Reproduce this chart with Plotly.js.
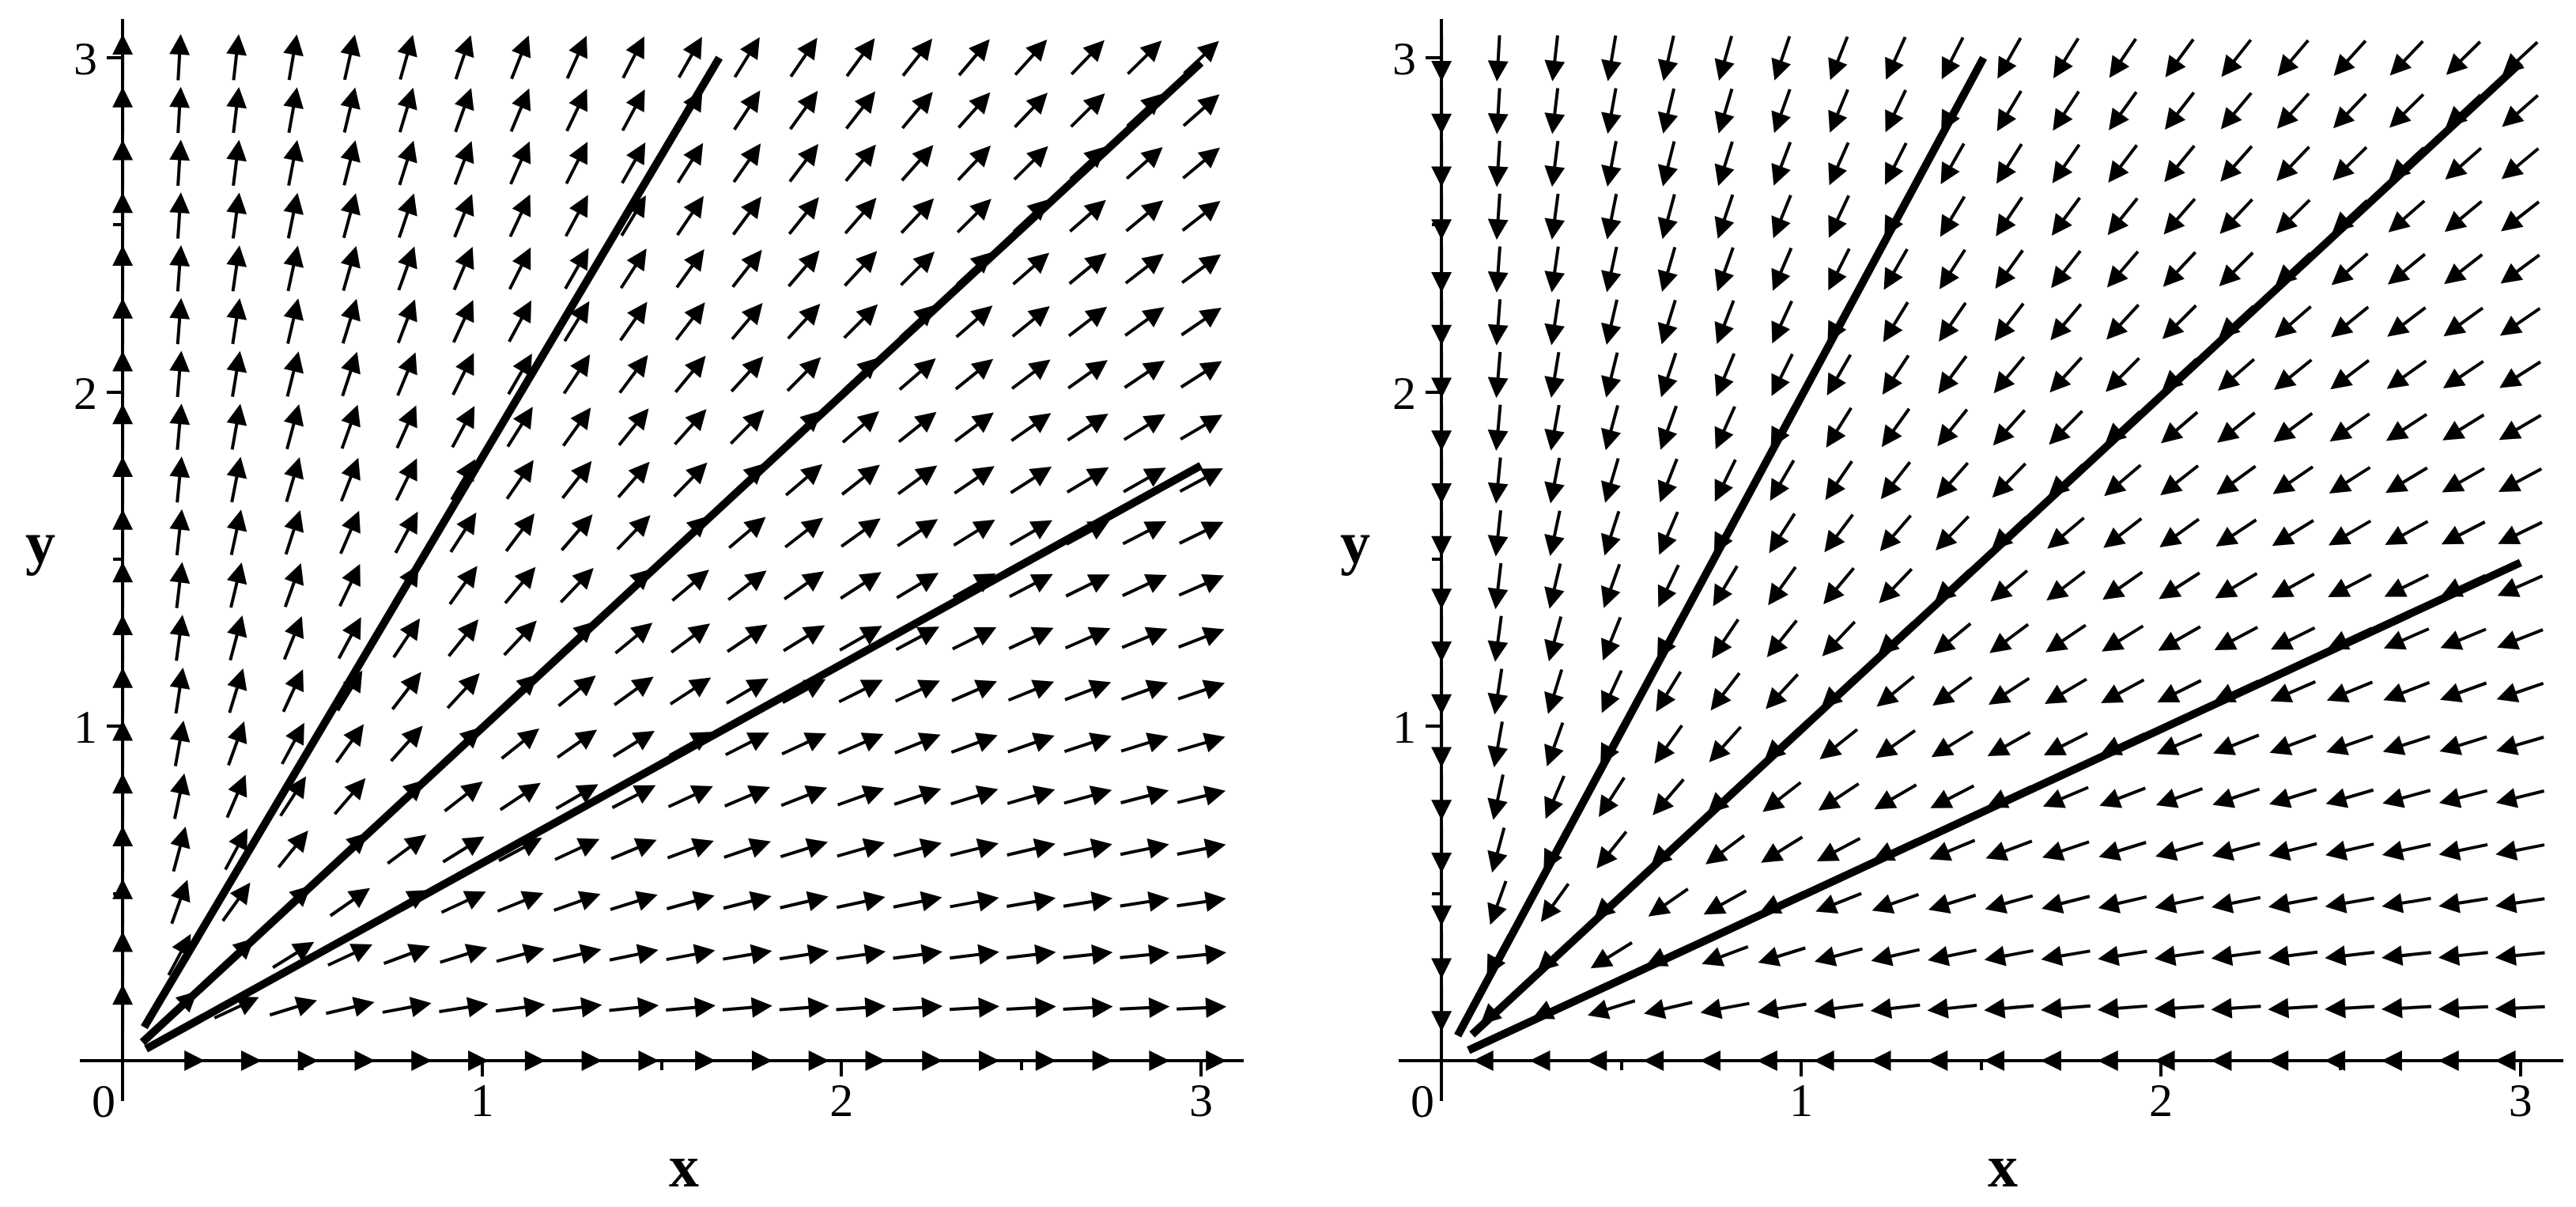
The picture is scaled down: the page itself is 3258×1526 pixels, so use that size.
<!DOCTYPE html>
<html>
<head>
<meta charset="utf-8">
<script src="https://cdn.plot.ly/plotly-3.0.1.min.js"></script>
<style>html,body{margin:0;padding:0;background:#fff;}#chart{width:3258px;height:1526px;}</style>
</head>
<body>
<div id="chart"></div>
<script>
// Grid of field points (20 x 20 on 0..3), same for x and y
const gridVals = [0, 0.1579, 0.3158, 0.4737, 0.6316, 0.7895, 0.9474, 1.1053, 1.2632, 1.4211,
                  1.5789, 1.7368, 1.8947, 2.0526, 2.2105, 2.3684, 2.5263, 2.6842, 2.8421, 3.0];
// Field direction signs: left panel x' = x, y' = y (outward); right panel x' = -x, y' = -y (inward)
const leftFieldSign = 1;
const rightFieldSign = -1;
// Solution curves (straight rays through the origin)
const leftCurvesX = [[0.06, 1.66], [0.055, 3.0], [0.065, 3.0]];
const leftCurvesY = [[0.10, 3.0], [0.055, 2.985], [0.035, 1.78]];
const rightCurvesX = [[0.045, 1.507], [0.085, 3.0], [0.075, 3.0]];
const rightCurvesY = [[0.075, 3.0], [0.078, 2.985], [0.031, 1.49]];
// Tick labels
const majorTicks = [1, 2, 3];
const majorTickText = ['1', '2', '3'];
const minorTicks = [0.5, 1.5, 2.5];
const arrowLen = 0.142;

const traces = [];
function addCurves(xs, ys, xa, ya) {
  for (let i = 0; i < xs.length; i++) {
    traces.push({x: xs[i], y: ys[i], xaxis: xa, yaxis: ya, mode: 'lines', type: 'scatter',
      line: {color: '#000', width: 10}, hoverinfo: 'skip', showlegend: false, cliponaxis: false});
  }
}
addCurves(leftCurvesX, leftCurvesY, 'x', 'y');
addCurves(rightCurvesX, rightCurvesY, 'x2', 'y2');

const annotations = [];
function addField(sign, xr, yr) {
  for (const gx of gridVals) {
    for (const gy of gridVals) {
      const m = Math.hypot(gx, gy);
      if (m === 0) continue;
      const ux = sign * gx / m, uy = sign * gy / m;
      annotations.push({
        xref: xr, yref: yr, axref: xr, ayref: yr,
        x: gx + ux * arrowLen / 2, y: gy + uy * arrowLen / 2,
        ax: gx - ux * arrowLen / 2, ay: gy - uy * arrowLen / 2,
        text: '', showarrow: true, arrowhead: 2, arrowsize: 1.3, arrowwidth: 4,
        arrowcolor: '#000', standoff: 0, startstandoff: 0
      });
    }
  }
}
addField(leftFieldSign, 'x', 'y');
addField(rightFieldSign, 'x2', 'y2');

const tickFont = {family: 'Liberation Serif, Times New Roman, serif', size: 60, color: '#000'};
const titleFont = {family: 'Liberation Serif, Times New Roman, serif', size: 76, color: '#000', weight: 'bold'};

// zero labels and axis titles
[['x','y'],['x2','y2']].forEach(([xr, yr]) => {
  annotations.push({xref: xr, yref: yr, x: 0, y: 0, text: '0', showarrow: false,
    xanchor: 'center', yanchor: 'middle', xshift: -24, yshift: -51, font: tickFont});
});
annotations.push({xref: 'paper', yref: 'paper', x: 865/3258, y: 0.0341, text: '<b>x</b>', showarrow: false, xanchor: 'center', yanchor: 'middle', font: titleFont});
annotations.push({xref: 'paper', yref: 'paper', x: 2533/3258, y: 0.0341, text: '<b>x</b>', showarrow: false, xanchor: 'center', yanchor: 'middle', font: titleFont});
annotations.push({xref: 'paper', yref: 'paper', x: 51/3258, y: 0.5505, text: '<b>y</b>', showarrow: false, xanchor: 'center', yanchor: 'middle', font: titleFont});
annotations.push({xref: 'paper', yref: 'paper', x: 1714/3258, y: 0.5505, text: '<b>y</b>', showarrow: false, xanchor: 'center', yanchor: 'middle', font: titleFont});

function xAxis(domain, yAnchorPos) {
  return {domain: domain, range: [-0.119, 3.119], anchor: 'free', position: yAnchorPos,
    showline: true, linecolor: '#000', linewidth: 4, showgrid: false, zeroline: false,
    tickmode: 'array', tickvals: majorTicks, ticktext: majorTickText, ticks: 'outside',
    ticklen: 18, tickwidth: 4, tickcolor: '#000', tickfont: tickFont, ticklabelstandoff: -22,
    minor: {tickmode: 'array', tickvals: minorTicks, ticks: 'outside', ticklen: 10, tickwidth: 4, tickcolor: '#000', showgrid: false},
    fixedrange: true};
}
function yAxis(xAnchorPos) {
  return {domain: [0.08781, 0.98427], range: [-0.1207, 3.116], anchor: 'free', position: xAnchorPos,
    showline: true, linecolor: '#000', linewidth: 4, showgrid: false, zeroline: false,
    tickmode: 'array', tickvals: majorTicks, ticktext: majorTickText, ticks: 'outside',
    ticklen: 18, tickwidth: 4, tickcolor: '#000', tickfont: tickFont,
    minor: {tickmode: 'array', tickvals: minorTicks, ticks: 'outside', ticklen: 10, tickwidth: 4, tickcolor: '#000', showgrid: false},
    fixedrange: true};
}
const y0pos = (1526 - 1341) / 1526;
const layout = {
  width: 3258, height: 1526, margin: {l: 0, r: 0, t: 0, b: 0},
  paper_bgcolor: '#fff', plot_bgcolor: '#fff', showlegend: false,
  xaxis: xAxis([101/3258, 1573/3258], y0pos),
  yaxis: yAxis(155/3258),
  xaxis2: xAxis([1769/3258, 3242/3258], y0pos),
  yaxis2: yAxis(1823/3258),
  annotations: annotations
};
Plotly.newPlot('chart', traces, layout, {staticPlot: true});
</script>
</body>
</html>
